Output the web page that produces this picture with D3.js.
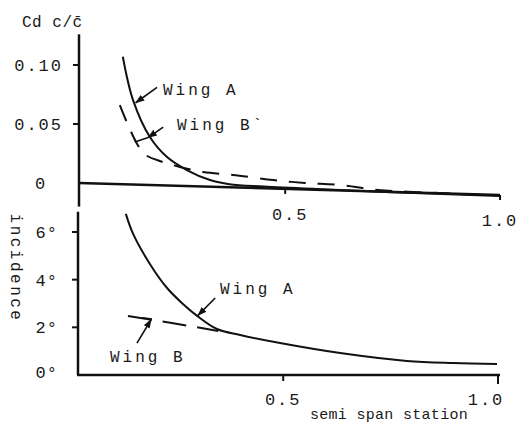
<!DOCTYPE html>
<html>
<head>
<meta charset="utf-8">
<script src="https://cdn.jsdelivr.net/npm/d3@7"></script>
<style>
  body { margin: 0; background: #fff; }
  text { font-family: "Liberation Mono", "DejaVu Sans Mono", monospace; fill: #1a1a1a; }
</style>
</head>
<body>
<div id="chart"></div>
<script>
// span stations and ticks
const spanTicks = [0.5, 1.0];
const spanTickLabels = ["0.5", "1.0"];
const cdTicks = [0.10, 0.05, 0];
const cdTickLabels = ["0.10", "0.05", "0"];
const incTicks = [6, 4, 2, 0];
const incTickLabels = ["6°", "4°", "2°", "0°"];

// top panel: Cd c/c-bar
const cdWingAx = [0.122, 0.146, 0.185, 0.225, 0.271, 0.325, 0.37, 0.45, 0.6, 0.8, 1.0];
const cdWingAy = [0.107, 0.070, 0.039, 0.022, 0.011, 0.0025, -0.001, -0.003, -0.0055, -0.0085, -0.011];
const cdWingBx = [0.115, 0.132, 0.157, 0.174, 0.213, 0.255, 0.309, 0.378, 0.472, 0.546, 0.628, 0.716, 0.860, 1.0];
const cdWingBy = [0.066, 0.051, 0.032, 0.024, 0.018, 0.0136, 0.0093, 0.0068, 0.0025, 0.0, -0.0017, -0.0059, -0.0085, -0.0105];
// the drawn zero line droops towards the tip
const cdBaseline = [0, -0.0102];

// bottom panel: incidence (deg)
const incWingAx = [0.129, 0.146, 0.185, 0.225, 0.262, 0.295, 0.341, 0.395, 0.488, 0.628, 0.783, 0.891, 0.993];
const incWingAy = [6.76, 5.92, 4.66, 3.65, 2.98, 2.48, 1.93, 1.68, 1.34, 0.92, 0.59, 0.50, 0.46];
const incWingBx = [0.134, 0.236, 0.344];
const incWingBy = [2.48, 2.18, 1.85];

const width = 517, height = 430;
const svg = d3.select("#chart").append("svg")
    .attr("width", width)
    .attr("height", height);

svg.append("defs").append("marker")
    .attr("id", "arrow")
    .attr("viewBox", "0 0 10 10")
    .attr("refX", 9).attr("refY", 5)
    .attr("markerWidth", 6).attr("markerHeight", 6)
    .attr("orient", "auto")
    .append("path")
    .attr("d", "M0,1.5 L10,5 L0,8.5 z")
    .attr("fill", "#111");

const x = d3.scaleLinear().domain([0.02, 1.0]).range([79, 500]);
const yTop = d3.scaleLinear().domain([0, 0.10]).range([183, 65]);
const yBot = d3.scaleLinear().domain([0, 6]).range([375, 232]);

const ink = "#111";

// ---- top panel ----
// y axis
svg.append("line")
    .attr("x1", x(0.02)).attr("x2", x(0.02))
    .attr("y1", yTop(0.126)).attr("y2", yTop(-0.02))
    .style("stroke", ink).style("stroke-width", 2.5);

svg.selectAll(".cdTick")
    .data(cdTicks.filter(d => d !== 0))
    .join("line")
    .classed("cdTick", true)
    .attr("x1", x(0.02) - 6).attr("x2", x(0.02))
    .attr("y1", d => yTop(d)).attr("y2", d => yTop(d))
    .style("stroke", ink).style("stroke-width", 2);

svg.selectAll(".cdLabel")
    .data(cdTicks)
    .join("text")
    .classed("cdLabel", true)
    .attr("x", d => d === 0 ? 41 : 63)
    .attr("y", d => yTop(d) + 6)
    .attr("text-anchor", d => d === 0 ? "middle" : "end")
    .attr("font-size", "17px")
    .attr("letter-spacing", "2px")
    .text((d, i) => cdTickLabels[i]);

// sloping zero line
const baseY = v => cdBaseline[0] + (cdBaseline[1] - cdBaseline[0]) * (v - 0.02) / 0.98;
svg.append("line")
    .attr("x1", x(0.02)).attr("y1", yTop(baseY(0.02)))
    .attr("x2", x(1.0)).attr("y2", yTop(baseY(1.0)))
    .style("stroke", ink).style("stroke-width", 2.5);

svg.selectAll(".spanTickTop")
    .data(spanTicks)
    .join("line")
    .classed("spanTickTop", true)
    .attr("x1", d => x(d)).attr("x2", d => x(d))
    .attr("y1", d => yTop(baseY(d))).attr("y2", d => yTop(baseY(d)) + 5)
    .style("stroke", ink).style("stroke-width", 2);

svg.selectAll(".spanLabelTop")
    .data(spanTicks)
    .join("text")
    .classed("spanLabelTop", true)
    .attr("x", d => x(d) + (d === 1 ? 0 : 5))
    .attr("y", d => yTop(baseY(d)) + 31)
    .attr("text-anchor", "middle")
    .attr("font-size", "17px")
    .attr("letter-spacing", "2px")
    .text((d, i) => spanTickLabels[i]);

const lineTop = d3.line()
    .x(d => x(d[0])).y(d => yTop(d[1]))
    .curve(d3.curveCatmullRom);

svg.append("path")
    .datum(d3.zip(cdWingAx, cdWingAy))
    .attr("d", lineTop)
    .style("fill", "none").style("stroke", ink).style("stroke-width", 2);

svg.append("path")
    .datum(d3.zip(cdWingBx, cdWingBy))
    .attr("d", lineTop)
    .style("fill", "none").style("stroke", ink).style("stroke-width", 2)
    .style("stroke-dasharray", "17,12");

svg.append("text")
    .attr("x", 22).attr("y", 27)
    .attr("font-size", "16px")
    .attr("letter-spacing", "0.5px")
    .text("Cd c/c\u0304");

// labels + pointers
svg.append("text")
    .attr("x", 163).attr("y", 95)
    .attr("font-size", "16px").attr("letter-spacing", "3px")
    .text("Wing A");
svg.append("text")
    .attr("x", 177).attr("y", 130)
    .attr("font-size", "16px").attr("letter-spacing", "3px")
    .text("Wing B`");

const ptr = d3.line().x(d => x(d[0]));
svg.append("path")
    .attr("d", ptr.y(d => yTop(d[1]))([[0.2016, 0.081], [0.152, 0.068]]))
    .attr("marker-end", "url(#arrow)")
    .style("fill", "none").style("stroke", ink).style("stroke-width", 1.6);
svg.append("path")
    .attr("d", ptr.y(d => yTop(d[1]))([[0.216, 0.0474], [0.181, 0.0385]]))
    .attr("marker-end", "url(#arrow)")
    .style("fill", "none").style("stroke", ink).style("stroke-width", 1.6);
svg.append("path")
    .attr("d", ptr.y(d => yTop(d[1]))([[0.181, 0.0385], [0.150, 0.0347]]))
    .style("fill", "none").style("stroke", ink).style("stroke-width", 1.6);

// ---- bottom panel ----
svg.append("line")
    .attr("x1", x(0.02) - 1).attr("x2", x(0.02) - 1)
    .attr("y1", yBot(6.85)).attr("y2", yBot(0))
    .style("stroke", ink).style("stroke-width", 2.5);

svg.selectAll(".incTick")
    .data(incTicks.filter(d => d !== 0))
    .join("line")
    .classed("incTick", true)
    .attr("x1", x(0.02) - 7).attr("x2", x(0.02))
    .attr("y1", d => yBot(d)).attr("y2", d => yBot(d))
    .style("stroke", ink).style("stroke-width", 2);

svg.selectAll(".incLabel")
    .data(incTicks)
    .join("text")
    .classed("incLabel", true)
    .attr("x", 58)
    .attr("y", d => yBot(d) + (d === 0 ? 3 : 6))
    .attr("text-anchor", "end")
    .attr("font-size", "17px")
    .attr("letter-spacing", "1px")
    .text((d, i) => incTickLabels[i]);

svg.append("line")
    .attr("x1", x(0.02) - 2).attr("x2", x(1.0))
    .attr("y1", yBot(0)).attr("y2", yBot(0))
    .style("stroke", ink).style("stroke-width", 2.5);

svg.selectAll(".spanTickBot")
    .data(spanTicks)
    .join("line")
    .classed("spanTickBot", true)
    .attr("x1", d => x(d) - 2).attr("x2", d => x(d) - 2)
    .attr("y1", yBot(0)).attr("y2", d => yBot(0) + (d === 1 ? 9 : 6))
    .style("stroke", ink).style("stroke-width", 2);

svg.selectAll(".spanLabelBot")
    .data(spanTicks)
    .join("text")
    .classed("spanLabelBot", true)
    .attr("x", d => x(d) - (d === 1 ? 14 : 2))
    .attr("y", 405)
    .attr("text-anchor", "middle")
    .attr("font-size", "17px")
    .attr("letter-spacing", "2px")
    .text((d, i) => spanTickLabels[i]);

svg.append("text")
    .attr("x", 389).attr("y", 419)
    .attr("text-anchor", "middle")
    .attr("font-size", "15px")
    .attr("letter-spacing", "0.3px")
    .text("semi span station");

svg.append("text")
    .attr("transform", "translate(11,268) rotate(90)")
    .attr("text-anchor", "middle")
    .attr("font-size", "16px")
    .attr("letter-spacing", "2.5px")
    .text("incidence");

const lineBot = d3.line()
    .x(d => x(d[0])).y(d => yBot(d[1]))
    .curve(d3.curveCatmullRom);

svg.append("path")
    .datum(d3.zip(incWingAx, incWingAy))
    .attr("d", lineBot)
    .style("fill", "none").style("stroke", ink).style("stroke-width", 2);

svg.append("path")
    .datum(d3.zip(incWingBx, incWingBy))
    .attr("d", lineBot)
    .style("fill", "none").style("stroke", ink).style("stroke-width", 2)
    .style("stroke-dasharray", "24,11");

svg.append("text")
    .attr("x", 220).attr("y", 294)
    .attr("font-size", "16px").attr("letter-spacing", "3px")
    .text("Wing A");
svg.append("text")
    .attr("x", 110).attr("y", 362)
    .attr("font-size", "16px").attr("letter-spacing", "3px")
    .text("Wing B");

svg.append("path")
    .attr("d", ptr.y(d => yBot(d[1]))([[0.337, 3.23], [0.297, 2.5]]))
    .attr("marker-end", "url(#arrow)")
    .style("fill", "none").style("stroke", ink).style("stroke-width", 1.6);
svg.append("path")
    .attr("d", ptr.y(d => yBot(d[1]))([[0.155, 1.34], [0.188, 2.33]]))
    .attr("marker-end", "url(#arrow)")
    .style("fill", "none").style("stroke", ink).style("stroke-width", 1.6);
svg.append("path")
    .attr("d", ptr.y(d => yBot(d[1]))([[0.167, 2.40], [0.190, 2.35]]))
    .style("fill", "none").style("stroke", ink).style("stroke-width", 1.6);
</script>
</body>
</html>
